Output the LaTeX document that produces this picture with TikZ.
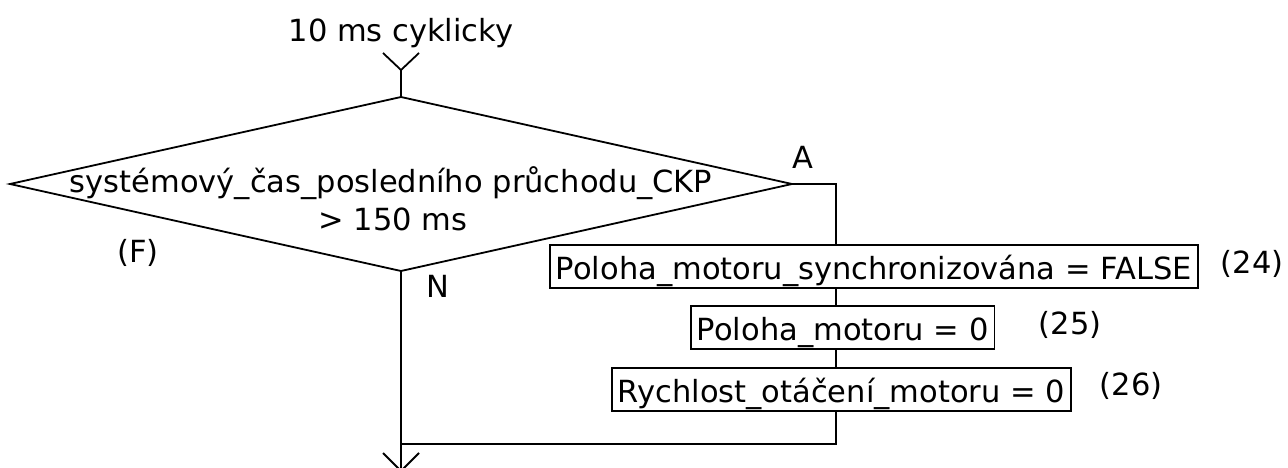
\documentclass[tikz,border=0pt]{standalone}
\usepackage{fontspec}
\setmainfont{DejaVu Sans}
\usetikzlibrary{shapes.geometric}
\begin{document}
\begin{tikzpicture}[x=1pt,y=-1pt,line width=1.8pt,
  txt/.style={font=\fontsize{30.5}{38}\selectfont,inner sep=0pt},
  actbox/.style={txt,draw,fill=white,inner xsep=6pt,inner ysep=0pt,
                 text height=34pt,text depth=9pt,anchor=base west},
  decision/.style={diamond,draw,inner sep=0pt,outer sep=0pt,
                   minimum width=782pt,minimum height=174pt}]
  \useasboundingbox (0,0) rectangle (1288,468);

  % trigger
  \node[txt,anchor=base] (trig) at (401,42) {10 ms cyklicky};
  \coordinate (in) at (401,70);

  % decision
  \node[decision] (dia) at (401,184) {};
  \node[txt,anchor=base] (dq1) at (391,192) {systémový\_čas\_posledního průchodu\_CKP};
  \node[txt,anchor=base] (dq2) at (393,230) {> 150 ms};
  \node[txt,anchor=base] (lA) at (803,168) {A};
  \node[txt,anchor=base] (lN) at (438,297) {N};
  \node[txt,anchor=base] (lF) at (138,262) {(F)};

  % actions of branch A
  \node[actbox] (b1) at (549,279) {Poloha\_motoru\_synchronizována = FALSE};
  \node[actbox] (b2) at (690,340) {Poloha\_motoru = 0};
  \node[actbox] (b3) at (611,402) {Rychlost\_otáčení\_motoru = 0};
  \node[txt,anchor=base] (r24) at (1252,273) {(24)};
  \node[txt,anchor=base] (r25) at (1070,334) {(25)};
  \node[txt,anchor=base] (r26) at (1131,395) {(26)};

  \coordinate (ra) at (836,184);
  \coordinate (rj) at (836,444);
  \coordinate (out) at (401,471);

  % incoming flow
  \draw (in) -- (dia.north);
  \draw (383,53) -- (in) -- (419,53);

  % branch A
  \draw (dia.east) -- (ra) -- (ra |- b1.north);
  \draw (ra |- b1.south) -- (ra |- b2.north);
  \draw (ra |- b2.south) -- (ra |- b3.north);
  \draw (ra |- b3.south) -- (rj) -- (dia.south |- rj);

  % outgoing flow
  \draw (dia.south) -- (out);
  \draw (383,453) -- (out) -- (419,453);
\end{tikzpicture}
\end{document}
